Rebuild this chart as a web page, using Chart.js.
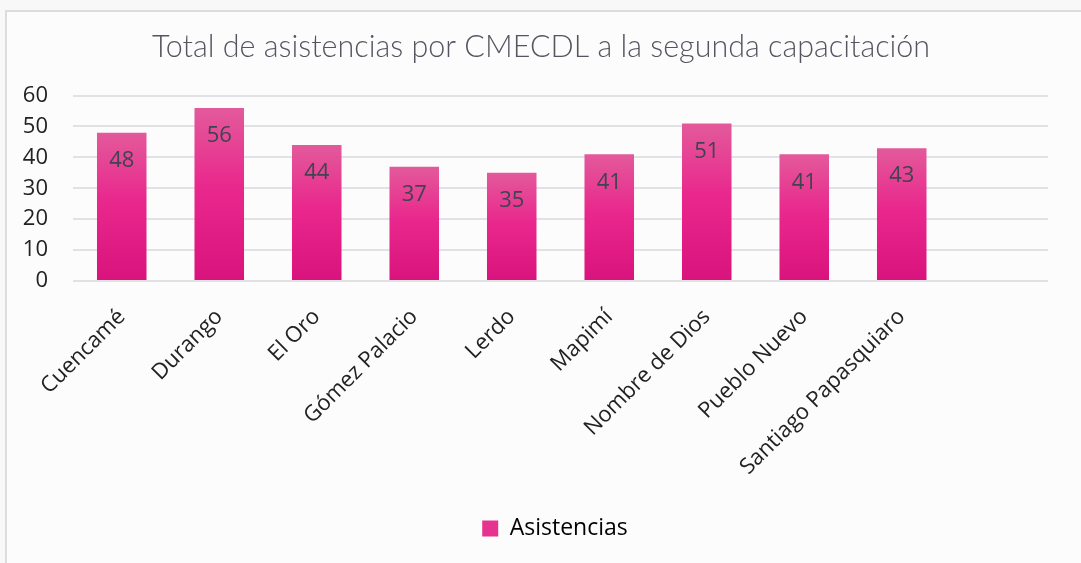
<!DOCTYPE html>
<html>
<head>
<meta charset="utf-8">
<script src="https://cdn.jsdelivr.net/npm/chart.js@4/dist/chart.umd.min.js"></script>
<style>
  html, body { margin: 0; padding: 0; background: #f8f8f8; width: 1081px; height: 563px; overflow: hidden; }
  #frame { position: absolute; left: 5px; top: 10px; width: 1100px; height: 600px;
           border-left: 2px solid #dcdce0; border-top: 2px solid #dcdce0; background: #fcfcfc; }
  #c { position: absolute; left: 0; top: 0; }
</style>
</head>
<body>
<div id="frame"></div>
<canvas id="c" width="1081" height="563"></canvas>
<script>
const categories = ['Cuencamé', 'Durango', 'El Oro', 'Gómez Palacio', 'Lerdo', 'Mapimí',
                    'Nombre de Dios', 'Pueblo Nuevo', 'Santiago Papasquiaro', ''];
const asistencias = [48, 56, 44, 37, 35, 41, 51, 41, 43, null];
const yTicks = [0, 10, 20, 30, 40, 50, 60];
const seriesName = 'Asistencias';
const chartTitle = 'Total de asistencias por CMECDL a la segunda capacitación';

function barGradient(ctx) {
  const chart = ctx.chart;
  const v = ctx.raw;
  if (!chart.chartArea || v == null || ctx.type !== 'data') return '#e8288e';
  const y = chart.scales.y;
  const top = y.getPixelForValue(v);
  const bot = y.getPixelForValue(0);
  const g = chart.ctx.createLinearGradient(0, top, 0, bot);
  g.addColorStop(0, '#e35a9b');
  g.addColorStop(0.45, '#e9288d');
  g.addColorStop(1, '#d9137d');
  return g;
}

const valueLabels = {
  id: 'valueLabels',
  afterDatasetsDraw(chart) {
    const ctx = chart.ctx;
    const meta = chart.getDatasetMeta(0);
    meta.data.forEach((bar, i) => {
      const v = chart.data.datasets[0].data[i];
      if (v == null) return;
      ctx.save();
      ctx.font = '22px "Open Sans"';
      ctx.fillStyle = '#404350';
      ctx.textAlign = 'center';
      ctx.textBaseline = 'middle';
      ctx.fillText(String(v), bar.x, bar.y + 28);
      ctx.restore();
    });
  }
};

// re-centre title and legend on the whole frame (the plot is offset by the right padding)
const blockShift = {
  id: 'blockShift',
  afterLayout(chart) {
    if (chart.titleBlock) { chart.titleBlock.left += 17; chart.titleBlock.right += 17; }
    if (chart.legend) { chart.legend.left += 31; chart.legend.right += 31; }
  }
};

new Chart(document.getElementById('c'), {
  type: 'bar',
  data: {
    labels: categories,
    datasets: [{
      label: seriesName,
      data: asistencias,
      backgroundColor: barGradient,
      borderWidth: 0,
      barPercentage: 0.508,
      categoryPercentage: 1.0
    }]
  },
  options: {
    responsive: false,
    animation: false,
    devicePixelRatio: 1,
    layout: { padding: { top: 0, left: 0, right: 33, bottom: 13 } },
    plugins: {
      title: {
        display: true,
        text: chartTitle,
        color: '#555560',
        font: { family: 'Lato', size: 30.5, weight: '300', lineHeight: 1.2 },
        padding: { top: 28.5, bottom: 30.5 }
      },
      legend: {
        display: true,
        position: 'bottom',
        labels: {
          color: '#4a4a58',
          font: { family: 'Open Sans', size: 23 },
          boxWidth: 16,
          boxHeight: 16,
          padding: 10,
          generateLabels(chart) {
            return [{
              text: seriesName,
              fillStyle: '#e6338f',
              strokeStyle: '#e6338f',
              lineWidth: 0,
              hidden: false,
              datasetIndex: 0
            }];
          }
        }
      },
      tooltip: { enabled: false }
    },
    scales: {
      x: {
        offset: true,
        grid: { display: false, drawTicks: false },
        border: { display: false },
        ticks: {
          color: '#222222',
          font: { family: 'Open Sans', size: 22 },
          minRotation: 45,
          maxRotation: 45,
          autoSkip: false,
          padding: 23
        },
        afterFit(scale) { scale.height = 226; }
      },
      y: {
        min: 0,
        max: 60,
        afterBuildTicks(scale) { scale.ticks = yTicks.map(v => ({ value: v })); },
        grid: { color: '#e2e2e6', lineWidth: 2, drawTicks: false },
        border: { display: false },
        ticks: {
          color: '#222222',
          font: { family: 'Open Sans', size: 22 },
          padding: 25
        },
        afterFit(scale) { scale.width = 73; }
      }
    }
  },
  plugins: [valueLabels, blockShift]
});
</script>
</body>
</html>
